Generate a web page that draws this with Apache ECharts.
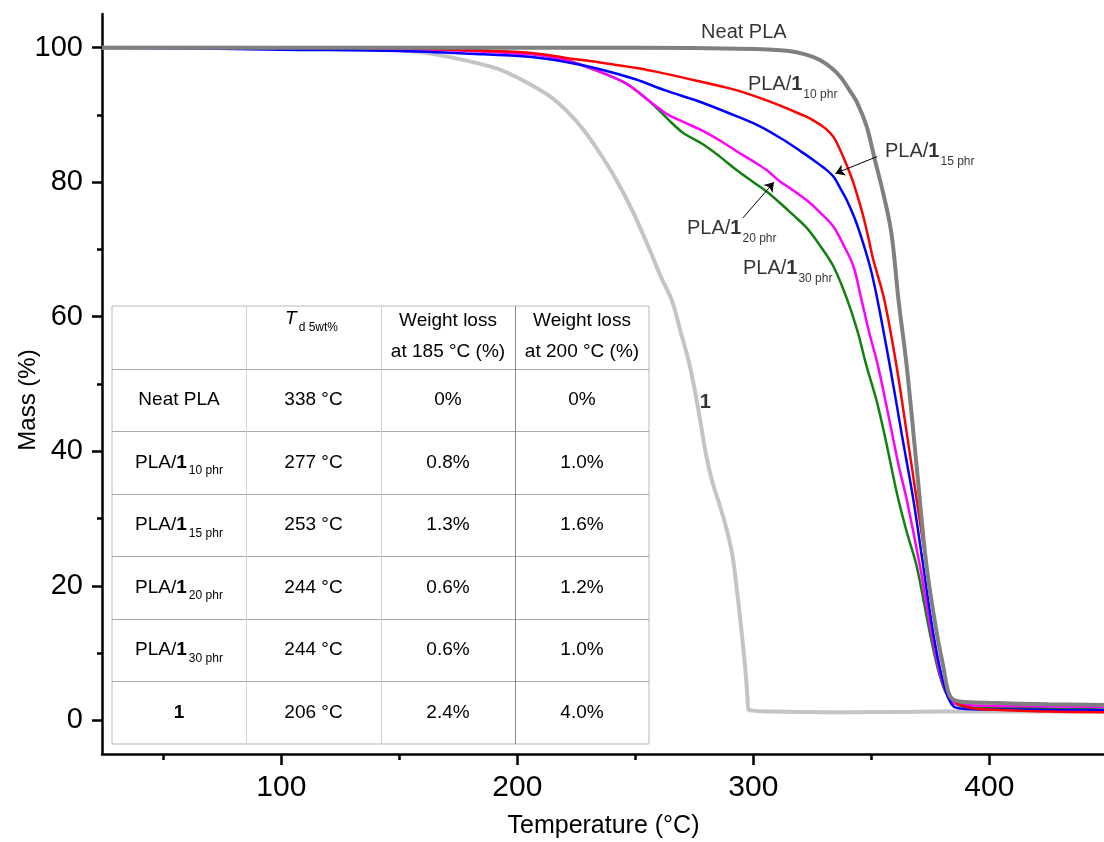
<!DOCTYPE html>
<html>
<head>
<meta charset="utf-8">
<title>TGA curves</title>
<script src="https://cdn.jsdelivr.net/npm/echarts@6/dist/echarts.min.js"></script>
<style>
    html, body {margin: 0; padding: 0; background: #fff;}
    #main {width: 1104px; height: 842px;}
</style>
</head>
<body>
<div id="main"></div>
<script>
let fontName = '"Liberation Sans", Arial, sans-serif';

// 曲线数据 [温度 °C, 质量 %]
let neatPLA = [[24, 100], [150, 100], [250, 100], [300, 99.8], [315, 99.5], [322, 99.0], [328, 98.2], [333, 97.0],
    [337, 95.6], [340.5, 93.8], [344, 91.8], [348, 88.3], [351.5, 83.3], [355, 78.4], [358.5, 72.4], [361.5, 62.5],
    [365, 52.6], [369.2, 37.7], [373.4, 22.9], [377.7, 13], [380.5, 8.0], [383.3, 3.6], [387.5, 2.8], [400, 2.6],
    [425, 2.4], [449, 2.3]];
let pla10 = [[24, 100], [100, 100], [150, 99.9], [180, 99.6], [206, 99.2], [220, 98.5], [235, 97.8], [250, 97.0],
    [263, 96.1], [277, 95.0], [291.5, 93.8], [303, 92.5], [312.7, 91.2], [320, 90.1], [325.4, 89.2], [330.5, 88.0],
    [334, 86.7], [336.5, 85.0], [338.5, 83.4], [340.5, 81.7], [342.4, 79.9], [344.5, 77.5], [346.6, 74.9],
    [348.7, 71.8], [350.8, 68.5], [355.5, 62.5], [360.7, 52.6], [365, 42.7], [369.2, 32.8], [373.4, 22.9],
    [377.7, 13], [381.2, 6.5], [384, 3.3], [390, 2.0], [400, 1.6], [425, 1.3], [449, 1.2]];
let pla15 = [[24, 100], [60, 99.9], [100, 99.7], [150, 99.5], [180, 99.1], [206, 98.6], [220, 97.9], [235, 96.8],
    [250, 95.3], [263, 93.6], [277, 92.0], [291.5, 90.0], [302.8, 88.3], [312.7, 86.3], [320, 84.6], [325.4, 83.3],
    [330, 82.1], [334, 80.8], [337, 79.0], [339.5, 77.4], [342.5, 75.0], [345.2, 72.4], [349.4, 67.5], [352.6, 62.5],
    [357.9, 52.6], [362.8, 42.7], [367.8, 32.8], [372, 22.9], [376.2, 13], [380.5, 5.6], [384.7, 2.1], [390, 1.7],
    [410, 1.6], [449, 1.5]];
let pla20 = [[24, 100], [100, 99.9], [150, 99.8], [180, 99.5], [206, 99.0], [220, 98.2], [235, 96.4], [246, 94.7],
    [253, 92.9], [258, 91.5], [264, 90.0], [270, 89.0], [278.8, 87.6], [285.8, 86.2], [292.9, 84.6], [300, 83.1],
    [305.6, 81.8], [311.3, 80.1], [316, 79.0], [322.6, 77.3], [328, 75.6], [333.9, 73.4], [338, 70.8], [342.4, 67.5],
    [345.5, 63.0], [349, 57.8], [353, 52.4], [358.3, 43.5], [361.5, 38.0], [365, 32.8], [370.6, 22.9], [375.5, 13],
    [379.8, 6], [384, 2.8], [390, 2.3], [420, 2.1], [449, 2.0]];
let pla30 = [[24, 100], [100, 100], [150, 99.9], [180, 99.6], [206, 99.1], [220, 98.2], [235, 96.4], [246, 94.7],
    [253, 92.9], [258, 91.4], [264, 89.3], [270, 87.4], [278.8, 85.6], [285.8, 83.8], [292.9, 81.8], [300, 80.0],
    [306, 78.5], [311.3, 76.9], [316, 75.4], [322.6, 73.2], [328, 70.7], [333.9, 67.5], [339.5, 62.8], [344, 58.0],
    [348, 52.6], [352.3, 47.4], [356, 41.8], [361, 33.5], [365, 28.0], [369.2, 22.9], [374.8, 13], [379.1, 6.5],
    [383.3, 3.1], [390.4, 2.0], [420, 1.8], [449, 1.6]];
let compound1 = [[24, 100], [80, 100], [120, 99.9], [150, 99.6], [165, 99.0], [178, 98.1], [192, 96.8], [203, 95.0],
    [214, 92.7], [222, 90.2], [228, 87.8], [235, 84.3], [242, 80.3], [249, 75.6], [256, 70.0], [261, 65.8],
    [265.5, 62.4], [269, 58.0], [273, 52.8], [276, 47.5], [278, 43.5], [280, 39.4], [282.5, 35.6], [285, 32.8],
    [288, 29.3], [291, 24.8], [293, 19.5], [295, 13.2], [296.5, 8.0], [297.5, 3.5], [298, 1.6], [310, 1.3],
    [340, 1.2], [380, 1.3], [420, 1.3], [449, 1.3]];

// 刻度
let xMajorTicks = [100, 200, 300, 400];
let xMinorTicks = [50, 150, 250, 350, 450];
let yMajorTicks = [0, 20, 40, 60, 80, 100];
let yMinorTicks = [10, 30, 50, 70, 90];

// 表格数据
let tableHeader = ['', 'Weight loss\nat 185 °C (%)', 'Weight loss\nat 200 °C (%)'];
let sampleBase = ['Neat PLA', 'PLA/', 'PLA/', 'PLA/', 'PLA/', ''];
let sampleLoad = ['', '10 phr', '15 phr', '20 phr', '30 phr', ''];
let td5 = ['338 °C', '277 °C', '253 °C', '244 °C', '244 °C', '206 °C'];
let loss185 = ['0%', '0.8%', '1.3%', '0.6%', '0.6%', '2.4%'];
let loss200 = ['0%', '1.0%', '1.6%', '1.2%', '1.0%', '4.0%'];

// 曲线标注
let curveLabelBase = ['Neat PLA', 'PLA/', 'PLA/', 'PLA/', 'PLA/', ''];
let curveLabelLoad = ['', '10 phr', '15 phr', '20 phr', '30 phr', ''];

function sampleText(base, load) {
    if (base === '') return '{b|1}';
    if (load === '') return '{n|' + base + '}';
    return '{n|' + base + '}{b|1}{s|' + load + '}';
}

let myChart = echarts.init(document.getElementById('main'));

// 标注位置 (数据坐标)
let labelAnchors = [[296, 102.2], [297.7, 94.45], [355.8, 84.5], [271.9, 73.06], [295.6, 67.1], [279.7, 47.3]];
let labelAlign = ['center', 'left', 'left', 'left', 'left', 'center'];
let arrowCoords = [[[352.4, 83.8], [334.8, 81.3]], [[295.6, 74.7], [308.7, 80.0]]];

let richChart = {
    n: {fontFamily: fontName, fontSize: 20, color: '#000', lineHeight: 26, verticalAlign: 'top'},
    b: {fontFamily: fontName, fontSize: 20, fontWeight: 'bold', color: '#000', lineHeight: 26, verticalAlign: 'top'},
    s: {fontFamily: fontName, fontSize: 12, color: '#000', verticalAlign: 'top', padding: [14, 0, 0, 1]}
};
let richTable = {
    n: {fontFamily: fontName, fontSize: 19, color: '#000', lineHeight: 25, verticalAlign: 'top'},
    b: {fontFamily: fontName, fontSize: 19, fontWeight: 'bold', color: '#000', lineHeight: 25, verticalAlign: 'top'},
    ti: {fontFamily: fontName, fontSize: 19, fontStyle: 'italic', color: '#000', lineHeight: 25, verticalAlign: 'top'},
    s: {fontFamily: fontName, fontSize: 12, color: '#000', verticalAlign: 'top', padding: [12, 0, 0, 2]}
};

// 表格 (像素布局)
function buildTable() {
    let colX = [112, 246, 381, 515, 649];
    let top = 306, rowH = 62.57, rows = 7;
    let bottom = top + rowH * rows;
    let els = [];
    els.push({type: 'rect', shape: {x: colX[0], y: top, width: colX[4] - colX[0], height: bottom - top},
        style: {fill: '#fff', stroke: '#b8b8b8', lineWidth: 1}, z: 100});
    for (let i = 1; i < rows; i++) {
        let y = Math.round(top + rowH * i) + 0.5;
        els.push({type: 'line', shape: {x1: colX[0], y1: y, x2: colX[4], y2: y},
            style: {stroke: '#a8a8a8', lineWidth: 1}, z: 101});
    }
    for (let j = 1; j < 4; j++) {
        els.push({type: 'line', shape: {x1: colX[j] + 0.5, y1: top, x2: colX[j] + 0.5, y2: bottom},
            style: {stroke: j === 3 ? '#8a8a8a' : '#d2d2d2', lineWidth: 1}, z: 101});
    }
    let cx = [];
    for (let j = 0; j < 4; j++) cx.push((colX[j] + colX[j + 1]) / 2);
    // 表头
    els.push({type: 'text', z: 102, style: {text: '{ti|T}{s|d 5wt%}', rich: richTable, x: cx[1] - 2, y: top + 16,
        align: 'center', verticalAlign: 'middle'}});
    for (let j = 1; j < 3; j++) {
        els.push({type: 'text', z: 102, style: {text: tableHeader[j], x: cx[j + 1], y: top + 30,
            fontFamily: fontName, fontSize: 19, lineHeight: 31, fill: '#000', align: 'center', verticalAlign: 'middle'}});
    }
    for (let i = 0; i < td5.length; i++) {
        let y = top + rowH * (i + 1) + rowH / 2;
        let cells = [sampleText(sampleBase[i], sampleLoad[i]), '{n|' + td5[i] + '}', '{n|' + loss185[i] + '}', '{n|' + loss200[i] + '}'];
        for (let j = 0; j < 4; j++) {
            els.push({type: 'text', z: 102, style: {text: cells[j], rich: richTable, x: cx[j], y: y + 3,
                align: 'center', verticalAlign: 'middle'}});
        }
    }
    return els;
}

let axisBase = {
    axisLine: {show: true, onZero: false, lineStyle: {color: '#000', width: 2.5}},
    splitLine: {show: false}
};

let lineBase = {type: 'line', symbol: 'none', smooth: 0.35};

let option = {
    animation: false,
    backgroundColor: '#fff',
    grid: {left: 102, top: 14, width: 1003, height: 740, containLabel: false, outerBoundsMode: 'none'},
    xAxis: [
        Object.assign({}, axisBase, {
            type: 'value', min: 24, max: 449, position: 'bottom',
            name: 'Temperature (°C)', nameLocation: 'middle', nameGap: 60, nameMoveOverlap: false,
            nameTextStyle: {fontFamily: fontName, fontSize: 25, color: '#000'},
            axisTick: {show: true, inside: false, length: 11, customValues: xMajorTicks, lineStyle: {color: '#000', width: 2.5}},
            axisLabel: {show: true, customValues: xMajorTicks, margin: 19, fontFamily: fontName, fontSize: 30, color: '#000'}
        }),
        {
            type: 'value', min: 24, max: 449, position: 'bottom', offset: 0,
            axisLine: {show: false, onZero: false}, splitLine: {show: false}, axisLabel: {show: false},
            axisTick: {show: true, inside: false, length: 6, customValues: xMinorTicks, lineStyle: {color: '#000', width: 2.5}}
        }
    ],
    yAxis: [
        Object.assign({}, axisBase, {
            type: 'value', min: -5, max: 105, position: 'left',
            name: 'Mass (%)', nameLocation: 'middle', nameGap: 62, nameMoveOverlap: false,
            nameTextStyle: {fontFamily: fontName, fontSize: 24, color: '#000', padding: [0, 32, 0, 0]},
            axisTick: {show: true, inside: false, length: 10, customValues: yMajorTicks, lineStyle: {color: '#000', width: 2.5}},
            axisLabel: {show: true, customValues: yMajorTicks, margin: 19, fontFamily: fontName, fontSize: 29, color: '#000'}
        }),
        {
            type: 'value', min: -5, max: 105, position: 'left', offset: 0,
            axisLine: {show: false, onZero: false}, splitLine: {show: false}, axisLabel: {show: false},
            axisTick: {show: true, inside: false, length: 5, customValues: yMinorTicks, lineStyle: {color: '#000', width: 2.5}}
        }
    ],
    graphic: buildTable(),
    series: [
        Object.assign({}, lineBase, {name: '1', data: compound1, lineStyle: {color: '#c4c4c4', width: 4}, z: 2}),
        Object.assign({}, lineBase, {name: 'PLA/1 30 phr', data: pla30, lineStyle: {color: '#118011', width: 2.5}, z: 3}),
        Object.assign({}, lineBase, {name: 'PLA/1 20 phr', data: pla20, lineStyle: {color: '#ff00ff', width: 2.5}, z: 3}),
        Object.assign({}, lineBase, {name: 'PLA/1 15 phr', data: pla15, lineStyle: {color: '#0000ff', width: 2.5}, z: 3}),
        Object.assign({}, lineBase, {name: 'PLA/1 10 phr', data: pla10, lineStyle: {color: '#ff0000', width: 2.5}, z: 3}),
        Object.assign({}, lineBase, {name: 'Neat PLA', data: neatPLA, lineStyle: {color: '#808080', width: 4}, z: 4}),
        {
            type: 'lines', coordinateSystem: 'cartesian2d', silent: true, z: 6,
            symbol: ['none', 'arrow'], symbolSize: 9,
            lineStyle: {color: '#000', width: 1, opacity: 1},
            data: arrowCoords.map(function (c) { return {coords: c}; })
        },
        {
            type: 'scatter', silent: true, z: 7, symbolSize: 0.1, itemStyle: {color: 'rgba(0,0,0,0)'},
            label: {show: true, position: [0, 0], verticalAlign: 'middle', offset: [0, 3], rich: richChart},
            data: labelAnchors.map(function (p, i) {
                return {
                    value: p,
                    label: {formatter: sampleText(curveLabelBase[i], curveLabelLoad[i]), align: labelAlign[i]}
                };
            })
        }
    ]
};
myChart.setOption(option);
</script>
</body>
</html>
